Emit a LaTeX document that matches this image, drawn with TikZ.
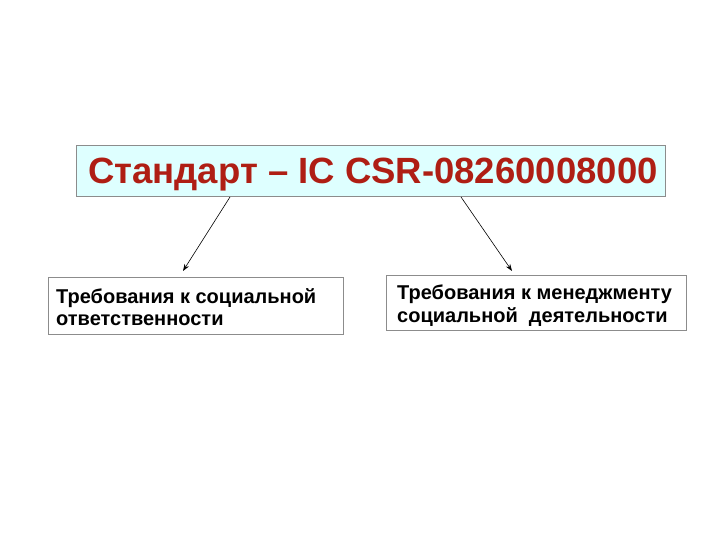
\documentclass[tikz,border=0pt]{standalone}
\usepackage{fontspec}
\setmainfont{Liberation Sans}
\usetikzlibrary{arrows.meta}
\definecolor{titlered}{RGB}{175,30,20}
\definecolor{boxcyan}{RGB}{222,255,255}
\definecolor{boxgray}{RGB}{140,140,140}
\tikzset{
  box/.style={draw=boxgray, line width=0.8pt, inner sep=0pt},
  subtext/.style={anchor=north west, align=left, font=\bfseries\fontsize{20}{22.5}\selectfont, inner sep=0pt},
  conn/.style={-{Stealth[length=7pt,width=5pt]}, line width=0.6pt, black}
}
\begin{document}
\begin{tikzpicture}[x=1pt,y=-1pt]
\useasboundingbox (0,0) rectangle (720,540);
\node[box, fill=boxcyan, minimum width=589pt, minimum height=51pt] (top) at (370.5,170.5) {};
\node[anchor=base west, text=titlered, font=\bfseries\fontsize{36.5}{40}\selectfont, inner sep=0pt] (title) at (88,184) {Стандарт – IC CSR-08260008000};
\node[box, fill=white, minimum width=295pt, minimum height=57pt] (left) at (195.5,305.5) {};
\node[subtext] (ltext) at (56,288) {Требования к социальной\\ответственности};
\node[box, fill=white, minimum width=300pt, minimum height=55pt] (right) at (536,302.5) {};
\node[subtext] (rtext) at (397,285) {Требования к менеджменту\\социальной\ \ деятельности};
\coordinate (a1) at (230,197);
\coordinate (a2) at (183,271);
\coordinate (b1) at (461,197);
\coordinate (b2) at (512,271);
\draw[conn] (a1) -- (a2);
\draw[conn] (b1) -- (b2);
\end{tikzpicture}
\end{document}
